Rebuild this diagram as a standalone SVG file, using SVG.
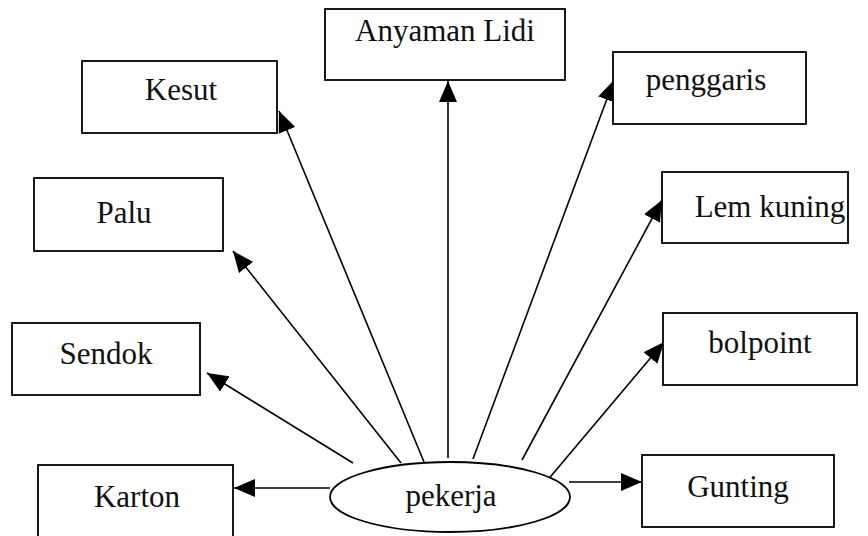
<svg xmlns="http://www.w3.org/2000/svg" width="868" height="536" viewBox="0 0 868 536">
  <defs>
    <marker id="arrow" markerUnits="userSpaceOnUse" markerWidth="22" markerHeight="18" refX="21" refY="9" orient="auto">
      <path d="M0,0 L21,9 L0,18 Z" fill="#000"/>
    </marker>
    <style>
      .box { fill: #fff; stroke: #000; stroke-width: 1.8; }
      .lbl { font-size: 31px; fill: #111; text-anchor: middle; }
      .edge { stroke: #000; stroke-width: 1.6; fill: none; marker-end: url(#arrow); }
    </style>
  </defs>
  <rect width="868" height="536" fill="#fff"/>

  <!-- connectors from the centre ellipse out to each item -->
  <g id="connectors">
    <line class="edge" x1="330" y1="488" x2="234" y2="488"/>
    <line class="edge" x1="569" y1="482" x2="642" y2="482"/>
    <line class="edge" x1="353" y1="463" x2="207" y2="373"/>
    <line class="edge" x1="401" y1="463" x2="233" y2="251"/>
    <line class="edge" x1="424" y1="462" x2="279" y2="111"/>
    <line class="edge" x1="448" y1="458" x2="448" y2="81"/>
    <line class="edge" x1="473" y1="459" x2="614" y2="80"/>
    <line class="edge" x1="522" y1="460" x2="662" y2="200"/>
    <line class="edge" x1="546" y1="482" x2="664" y2="342"/>
  </g>

  <g font-family="Liberation Serif">
    <g id="pekerja">
      <ellipse cx="450" cy="497" rx="120" ry="35" fill="#fff" stroke="#000" stroke-width="1.8"/>
      <text class="lbl" x="451" y="506">pekerja</text>
    </g>
    <g id="karton">
      <rect class="box" x="38" y="465" width="195" height="90"/>
      <text class="lbl" x="137" y="507">Karton</text>
    </g>
    <g id="gunting">
      <rect class="box" x="642" y="455" width="192" height="72"/>
      <text class="lbl" x="738" y="497">Gunting</text>
    </g>
    <g id="sendok">
      <rect class="box" x="12" y="323" width="188" height="72"/>
      <text class="lbl" x="106" y="364">Sendok</text>
    </g>
    <g id="palu">
      <rect class="box" x="34" y="178" width="189" height="73"/>
      <text class="lbl" x="124" y="223">Palu</text>
    </g>
    <g id="kesut">
      <rect class="box" x="82" y="61" width="195" height="72"/>
      <text class="lbl" x="181" y="100">Kesut</text>
    </g>
    <g id="anyaman-lidi">
      <rect class="box" x="325" y="9" width="240" height="71"/>
      <text class="lbl" x="445" y="41">Anyaman Lidi</text>
    </g>
    <g id="penggaris">
      <rect class="box" x="613" y="52" width="193" height="72"/>
      <text class="lbl" x="706" y="90">penggaris</text>
    </g>
    <g id="lem-kuning">
      <rect class="box" x="662" y="172" width="186" height="71"/>
      <text class="lbl" x="770" y="217">Lem kuning</text>
    </g>
    <g id="bolpoint">
      <rect class="box" x="663" y="313" width="194" height="72"/>
      <text class="lbl" x="760" y="353">bolpoint</text>
    </g>
  </g>
</svg>
